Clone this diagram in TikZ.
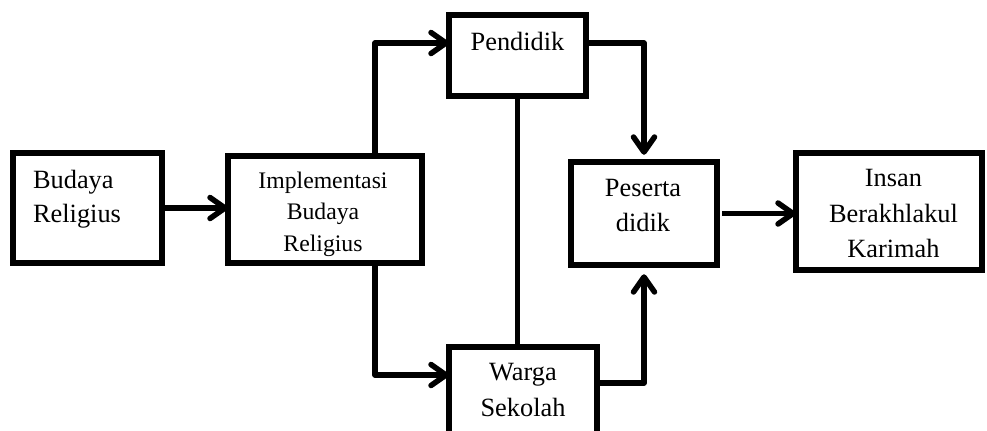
\documentclass[tikz,border=0pt]{standalone}
\usepackage{fontspec}
\setmainfont{Liberation Serif}
\usetikzlibrary{arrows.meta}

\begin{document}
\begin{tikzpicture}[x=0.02cm, y=-0.02cm]
    \tikzstyle{box} = [draw, line width=0.11cm, inner sep=0pt, outer sep=0pt]
    \tikzstyle{txt} = [inner sep=0pt, align=center, font=\fontsize{15}{20}\selectfont]
    \tikzstyle{link} = [line width=0.11cm, line join=round, -{Straight Barb[length=0.3cm, width=0.42cm, round]}]

    \clip (0,0) rectangle (987,430);

    % Draw the boxes
    \node[box, minimum width=2.99cm, minimum height=2.21cm] (bud) at (87.5,208) {};
    \node[box, minimum width=3.89cm, minimum height=2.15cm] (imp) at (325,209.5) {};
    \node[box, minimum width=2.75cm, minimum height=1.63cm] (pen) at (517.5,55.5) {};
    \node[box, minimum width=2.97cm, minimum height=2.00cm] (war) at (523,396.75) {};
    \node[box, minimum width=2.93cm, minimum height=2.07cm] (pes) at (644,213.5) {};
    \node[box, minimum width=3.73cm, minimum height=2.35cm] (ins) at (889,211.5) {};

    % Texts inside the boxes
    \node[txt, align=left, font=\fontsize{15}{19.3}\selectfont] (budT) at (77,199) {Budaya\\Religius};
    \node[txt, font=\fontsize{13.5}{17.9}\selectfont] (impT) at (323,214) {Implementasi\\Budaya\\Religius};
    \node[txt] (penT) at (517.5,41) {Pendidik};
    \node[txt] (warT) at (523,390) {Warga\\Sekolah};
    \node[txt] (pesT) at (643,205.5) {Peserta\\didik};
    \node[txt, font=\fontsize{15}{20.4}\selectfont] (insT) at (893.5,213.5) {Insan\\Berakhlakul\\Karimah};

    % Draw the connectors
    \draw[link] (bud.east) -- (bud.east -| imp.west);
    \draw[link] ([xshift=1cm]imp.north) |- ([yshift=0.25cm]pen.west);
    \draw[link] ([xshift=1cm]imp.south) |- ([yshift=0.435cm]war.west);
    \draw[link, shorten >=0.14cm] ([yshift=0.25cm]pen.east) -| (pes.north);
    \draw[line width=0.11cm] (pen.south) -- (pen.south |- war.north);
    \draw[link, shorten >=0.18cm] ([yshift=0.275cm]war.east) -| (pes.south);
    \draw[link, shorten <=0.1cm] (pes.east) -- (pes.east -| ins.west);
\end{tikzpicture}
\end{document}
